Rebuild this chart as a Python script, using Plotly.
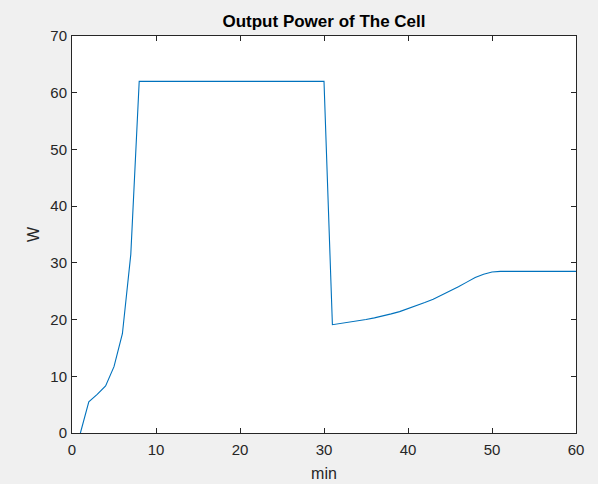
import plotly.graph_objects as go

minutes = list(range(1, 61))
power = [0, 5.5, 6.8, 8.3, 11.7, 17.5, 31.5] + [62.0] * 23 + [
    19.1, 19.3, 19.5, 19.7, 20.0, 20.3, 20.6, 21.0, 21.4, 21.9,
    22.4, 23.0, 23.6, 24.3, 25.0, 25.8, 26.6, 27.4, 28.0, 28.4,
    28.5] + [28.5] * 9

title_text = "Output Power of The Cell"
x_label = "min"
y_label = "W"
x_ticks = [0, 10, 20, 30, 40, 50, 60]
y_ticks = [0, 10, 20, 30, 40, 50, 60, 70]

FONT = "Liberation Sans, Arial, sans-serif"

fig = go.Figure()
fig.add_trace(go.Scatter(x=minutes, y=power, mode="lines",
                         line=dict(color="#0072BD", width=1.1),
                         showlegend=False, hoverinfo="x+y"))

axis_common = dict(
    showline=True, linecolor="#262626", linewidth=1, mirror="ticks",
    ticks="inside", ticklen=5, tickcolor="#262626", tickwidth=1,
    showgrid=False, zeroline=False, automargin=False,
    tickfont=dict(family=FONT, size=15, color="#262626"),
)

fig.update_layout(
    width=598, height=484,
    paper_bgcolor="#f0f0f0", plot_bgcolor="#ffffff",
    margin=dict(l=72, r=22, t=36, b=51),
    title=dict(text="<b>" + title_text + "</b>", x=0.5, xanchor="center",
               xref="paper", y=1 - 21 / 484, yanchor="middle",
               font=dict(family=FONT, size=17, color="#000000")),
    xaxis=dict(range=[0, 60], tickvals=x_ticks, ticklabelstandoff=3,
               title=dict(text=x_label, standoff=10,
                          font=dict(family=FONT, size=16, color="#262626")),
               **axis_common),
    yaxis=dict(range=[0, 70], tickvals=y_ticks, ticklabelstandoff=1,
               title=dict(text=y_label, standoff=6,
                          font=dict(family=FONT, size=16, color="#262626")),
               **axis_common),
)

fig.write_html("out.html", config={"displayModeBar": False},
               post_script="document.body.style.margin='0';document.body.style.background='#f0f0f0';")
